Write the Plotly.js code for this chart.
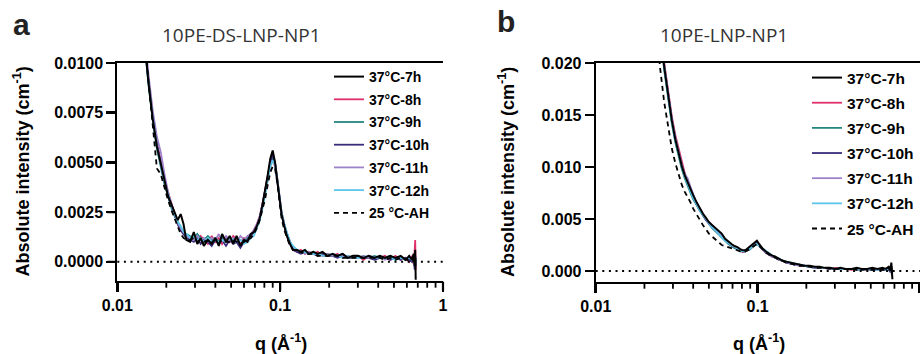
<!DOCTYPE html>
<html>
<head>
<meta charset="utf-8">
<script src="https://cdn.plot.ly/plotly-3.0.1.min.js"></script>
<style>html,body{margin:0;padding:0;background:#fff;overflow:hidden}#chart{width:920px;height:354px}</style>
</head>
<body>
<div id="chart"></div>
<script>
// ---------- Panel a : 10PE-DS-LNP-NP1 ----------
const qA = [0.0125,0.0135,0.0145,0.0155,0.0165,0.0175,0.0185,0.0195,0.0205,0.0215,
  0.0225,0.0235,0.0245,0.0255,0.0265,0.0280,0.0295,0.0310,0.0325,0.0340,
  0.0360,0.0380,0.0400,0.0420,0.0440,0.0465,0.0490,0.0515,0.0540,0.0570,
  0.0600,0.0630,0.0660,0.0690,0.0720,0.0750,0.0780,0.0810,0.0840,0.0870,
  0.0900,0.0930,0.0960,0.0990,0.1020,0.1060,0.1100,0.1150,0.1200,0.1270,
  0.1340,0.1420,0.1500,0.1600,0.1700,0.1820,0.1950,0.2100,0.2250,0.2420,
  0.2600,0.2800,0.3000,0.3250,0.3500,0.3800,0.4100,0.4400,0.4750,0.5100,
  0.5500,0.5900,0.6200,0.6450,0.6600,0.6700,0.6750,0.6800];
const a7h = [0.0190,0.0150,0.0115,0.0091,0.0072,0.0058,0.0050,0.0041,0.0033,0.0029,
  0.0025,0.0021,0.0024,0.0019,0.0011,0.0010,0.0015,0.0009,0.0012,0.0008,
  0.0011,0.0009,0.0012,0.0008,0.0014,0.0010,0.0013,0.0009,0.0013,0.0008,
  0.0011,0.0010,0.0014,0.0015,0.0018,0.0022,0.0029,0.0036,0.0044,0.0052,
  0.0056,0.0050,0.0041,0.0031,0.0024,0.0018,0.0013,0.0009,0.0006,0.0006,
  0.0005,0.0006,0.0004,0.0005,0.0004,0.0005,0.0003,0.0004,0.0003,0.0004,
  0.0002,0.0003,0.0003,0.0002,0.0003,0.0002,0.0003,0.0002,0.0003,0.0002,
  0.0003,0.0001,0.0003,0.0001,0.0004,-0.0002,0.0006,-0.0009];
const a8h = [0.0195,0.0154,0.0118,0.0093,0.0074,0.0060,0.0050,0.0042,0.0035,0.0029,
  0.0024,0.0019,0.0016,0.0014,0.0013,0.0011,0.0012,0.0010,0.0013,0.0011,
  0.0009,0.0013,0.0010,0.0012,0.0009,0.0012,0.0010,0.0013,0.0011,0.0009,
  0.0012,0.0011,0.0013,0.0016,0.0019,0.0023,0.0029,0.0036,0.0043,0.0050,
  0.0053,0.0050,0.0042,0.0032,0.0025,0.0019,0.0014,0.0010,0.0007,0.0005,
  0.0006,0.0004,0.0005,0.0004,0.0005,0.0003,0.0004,0.0003,0.0004,0.0002,
  0.0003,0.0002,0.0003,0.0001,0.0003,0.0002,0.0002,0.0003,0.0001,0.0003,
  0.0001,0.0002,0.0000,0.0003,-0.0001,0.0006,0.0011,-0.0004];
const a9h = [0.0192,0.0151,0.0116,0.0090,0.0071,0.0057,0.0047,0.0039,0.0033,0.0027,
  0.0023,0.0020,0.0017,0.0015,0.0014,0.0013,0.0012,0.0014,0.0012,0.0011,
  0.0013,0.0011,0.0012,0.0010,0.0012,0.0011,0.0012,0.0010,0.0012,0.0011,
  0.0010,0.0012,0.0014,0.0015,0.0018,0.0022,0.0028,0.0035,0.0042,0.0049,
  0.0052,0.0049,0.0041,0.0031,0.0024,0.0018,0.0014,0.0010,0.0007,0.0006,
  0.0005,0.0005,0.0004,0.0005,0.0003,0.0004,0.0004,0.0003,0.0003,0.0004,
  0.0002,0.0003,0.0002,0.0003,0.0002,0.0003,0.0002,0.0002,0.0003,0.0001,
  0.0002,0.0002,0.0001,0.0002,0.0000,0.0003,-0.0003,0.0002];
const a10h = [0.0196,0.0153,0.0117,0.0092,0.0073,0.0059,0.0049,0.0040,0.0033,0.0028,
  0.0023,0.0019,0.0016,0.0014,0.0012,0.0011,0.0010,0.0012,0.0009,0.0011,
  0.0010,0.0008,0.0011,0.0009,0.0011,0.0008,0.0011,0.0009,0.0010,0.0007,
  0.0010,0.0011,0.0013,0.0015,0.0018,0.0022,0.0029,0.0036,0.0044,0.0050,
  0.0054,0.0050,0.0041,0.0031,0.0024,0.0018,0.0013,0.0009,0.0006,0.0005,
  0.0004,0.0005,0.0004,0.0004,0.0003,0.0004,0.0003,0.0003,0.0002,0.0003,
  0.0002,0.0002,0.0003,0.0002,0.0002,0.0001,0.0002,0.0002,0.0001,0.0002,
  0.0001,0.0002,0.0001,0.0000,0.0002,-0.0004,0.0003,-0.0002];
const a11h = [0.0200,0.0158,0.0121,0.0095,0.0076,0.0063,0.0055,0.0044,0.0035,0.0029,
  0.0024,0.0020,0.0017,0.0015,0.0013,0.0012,0.0011,0.0013,0.0011,0.0012,
  0.0010,0.0012,0.0011,0.0014,0.0010,0.0013,0.0011,0.0012,0.0010,0.0013,
  0.0011,0.0013,0.0014,0.0016,0.0019,0.0023,0.0029,0.0035,0.0042,0.0048,
  0.0051,0.0048,0.0040,0.0031,0.0025,0.0019,0.0014,0.0010,0.0007,0.0006,
  0.0005,0.0004,0.0005,0.0004,0.0004,0.0003,0.0004,0.0003,0.0003,0.0003,
  0.0003,0.0002,0.0002,0.0003,0.0002,0.0002,0.0003,0.0001,0.0002,0.0002,
  0.0002,0.0001,0.0002,0.0001,0.0001,0.0002,-0.0002,0.0001];
const a12h = [0.0193,0.0152,0.0116,0.0091,0.0072,0.0058,0.0048,0.0040,0.0034,0.0028,
  0.0024,0.0020,0.0018,0.0015,0.0014,0.0012,0.0013,0.0011,0.0012,0.0010,
  0.0012,0.0010,0.0011,0.0010,0.0011,0.0010,0.0012,0.0011,0.0010,0.0011,
  0.0009,0.0010,0.0012,0.0013,0.0017,0.0021,0.0027,0.0034,0.0041,0.0048,
  0.0051,0.0049,0.0042,0.0033,0.0025,0.0019,0.0015,0.0010,0.0008,0.0006,
  0.0005,0.0005,0.0004,0.0004,0.0004,0.0003,0.0003,0.0004,0.0003,0.0002,
  0.0003,0.0002,0.0002,0.0002,0.0003,0.0002,0.0002,0.0002,0.0002,0.0001,
  0.0002,0.0001,0.0002,0.0001,0.0002,-0.0001,0.0001,0.0000];
const aAH = [0.0205,0.0160,0.0121,0.0092,0.0068,0.0047,0.0044,0.0037,0.0031,0.0026,
  0.0022,0.0018,0.0014,0.0012,0.0011,0.0011,0.0012,0.0010,0.0011,0.0010,
  0.0011,0.0010,0.0011,0.0009,0.0011,0.0010,0.0010,0.0011,0.0010,0.0009,
  0.0010,0.0011,0.0012,0.0014,0.0017,0.0021,0.0026,0.0032,0.0039,0.0045,
  0.0048,0.0047,0.0040,0.0031,0.0022,0.0016,0.0012,0.0008,0.0006,0.0005,
  0.0005,0.0004,0.0004,0.0004,0.0003,0.0003,0.0003,0.0003,0.0003,0.0002,
  0.0002,0.0002,0.0002,0.0002,0.0002,0.0002,0.0002,0.0001,0.0002,0.0001,
  0.0002,0.0001,0.0001,0.0002,0.0000,0.0002,-0.0001,0.0001];

// ---------- Panel b : 10PE-LNP-NP1 ----------
const qB = [0.0220,0.0235,0.0250,0.0265,0.0280,0.0295,0.0310,0.0325,0.0340,0.0355,
  0.0370,0.0385,0.0400,0.0420,0.0440,0.0460,0.0480,0.0500,0.0525,0.0550,
  0.0575,0.0600,0.0630,0.0660,0.0690,0.0720,0.0750,0.0780,0.0810,0.0840,
  0.0870,0.0900,0.0930,0.0960,0.0990,0.1010,0.1040,0.1080,0.1120,0.1170,
  0.1220,0.1280,0.1350,0.1420,0.1500,0.1600,0.1700,0.1820,0.1950,0.2100,
  0.2250,0.2420,0.2600,0.2800,0.3000,0.3250,0.3500,0.3800,0.4100,0.4400,
  0.4750,0.5100,0.5500,0.5900,0.6200,0.6450,0.6600,0.6700,0.6750,0.6800];
const b7h = [0.0320,0.0272,0.0232,0.0196,0.0168,0.0145,0.0127,0.0113,0.0101,0.0092,
  0.0085,0.0080,0.0073,0.0066,0.0060,0.0055,0.0051,0.0047,0.0044,0.0041,
  0.0039,0.0036,0.0031,0.0028,0.0026,0.0024,0.0023,0.0021,0.0020,0.0020,
  0.0022,0.0023,0.0025,0.0027,0.0029,0.0027,0.0024,0.0021,0.0019,0.0017,
  0.0015,0.0014,0.0012,0.0010,0.0009,0.0008,0.0007,0.0006,0.0005,0.0005,
  0.0004,0.0004,0.0003,0.0003,0.0002,0.0003,0.0002,0.0002,0.0003,0.0002,
  0.0002,0.0003,0.0002,0.0003,0.0002,0.0004,0.0001,0.0008,-0.0002,-0.0008];
const b8h = [0.0325,0.0276,0.0236,0.0200,0.0172,0.0149,0.0131,0.0117,0.0104,0.0094,
  0.0086,0.0079,0.0072,0.0065,0.0059,0.0054,0.0050,0.0046,0.0043,0.0040,
  0.0037,0.0034,0.0030,0.0027,0.0025,0.0023,0.0021,0.0020,0.0018,0.0019,
  0.0020,0.0022,0.0024,0.0026,0.0027,0.0026,0.0023,0.0020,0.0018,0.0016,
  0.0014,0.0013,0.0011,0.0010,0.0009,0.0007,0.0007,0.0005,0.0005,0.0004,
  0.0004,0.0003,0.0003,0.0002,0.0003,0.0002,0.0002,0.0001,0.0002,0.0002,
  0.0001,0.0002,0.0001,0.0002,0.0001,0.0002,0.0000,0.0005,-0.0004,0.0001];
const b9h = [0.0318,0.0270,0.0229,0.0193,0.0165,0.0142,0.0124,0.0110,0.0098,0.0089,
  0.0081,0.0075,0.0069,0.0063,0.0058,0.0053,0.0049,0.0045,0.0041,0.0038,
  0.0035,0.0032,0.0029,0.0026,0.0024,0.0022,0.0021,0.0019,0.0019,0.0019,
  0.0020,0.0021,0.0023,0.0025,0.0026,0.0025,0.0023,0.0020,0.0018,0.0016,
  0.0015,0.0013,0.0012,0.0010,0.0009,0.0008,0.0006,0.0006,0.0005,0.0004,
  0.0004,0.0003,0.0003,0.0003,0.0002,0.0002,0.0002,0.0002,0.0001,0.0002,
  0.0002,0.0001,0.0002,0.0001,0.0002,0.0001,0.0003,-0.0002,0.0004,-0.0001];
const b10h = [0.0322,0.0274,0.0233,0.0197,0.0169,0.0146,0.0128,0.0114,0.0102,0.0093,
  0.0087,0.0079,0.0071,0.0064,0.0058,0.0054,0.0049,0.0046,0.0042,0.0039,
  0.0036,0.0033,0.0030,0.0027,0.0025,0.0023,0.0021,0.0020,0.0019,0.0019,
  0.0021,0.0022,0.0024,0.0026,0.0027,0.0026,0.0023,0.0021,0.0018,0.0016,
  0.0015,0.0013,0.0011,0.0010,0.0008,0.0007,0.0006,0.0006,0.0005,0.0004,
  0.0003,0.0003,0.0003,0.0002,0.0002,0.0002,0.0002,0.0002,0.0002,0.0001,
  0.0002,0.0001,0.0002,0.0001,0.0001,0.0002,-0.0001,0.0003,-0.0003,0.0000];
const b11h = [0.0324,0.0275,0.0235,0.0199,0.0170,0.0147,0.0129,0.0114,0.0102,0.0093,
  0.0089,0.0081,0.0073,0.0065,0.0059,0.0054,0.0050,0.0046,0.0042,0.0039,
  0.0036,0.0033,0.0030,0.0027,0.0025,0.0023,0.0021,0.0020,0.0019,0.0020,
  0.0021,0.0022,0.0024,0.0026,0.0027,0.0025,0.0023,0.0020,0.0018,0.0016,
  0.0014,0.0013,0.0011,0.0010,0.0009,0.0007,0.0006,0.0005,0.0005,0.0004,
  0.0004,0.0003,0.0003,0.0002,0.0002,0.0002,0.0002,0.0002,0.0001,0.0002,
  0.0001,0.0002,0.0001,0.0001,0.0002,0.0001,0.0002,-0.0001,0.0002,0.0000];
const b12h = [0.0319,0.0271,0.0231,0.0195,0.0167,0.0144,0.0126,0.0112,0.0100,0.0091,
  0.0083,0.0077,0.0070,0.0064,0.0058,0.0054,0.0050,0.0046,0.0042,0.0039,
  0.0036,0.0033,0.0029,0.0027,0.0025,0.0023,0.0021,0.0020,0.0019,0.0019,
  0.0020,0.0022,0.0023,0.0025,0.0026,0.0025,0.0023,0.0021,0.0019,0.0017,
  0.0015,0.0013,0.0012,0.0010,0.0009,0.0008,0.0007,0.0006,0.0005,0.0004,
  0.0004,0.0003,0.0003,0.0003,0.0002,0.0002,0.0002,0.0002,0.0002,0.0001,
  0.0002,0.0001,0.0001,0.0002,0.0001,0.0001,0.0002,0.0000,0.0001,0.0000];
const bAH = [0.0290,0.0238,0.0195,0.0162,0.0138,0.0118,0.0104,0.0092,0.0083,0.0076,
  0.0071,0.0066,0.0060,0.0054,0.0049,0.0044,0.0040,0.0036,0.0033,0.0030,
  0.0027,0.0025,0.0024,0.0023,0.0022,0.0021,0.0020,0.0019,0.0019,0.0019,
  0.0020,0.0021,0.0023,0.0025,0.0026,0.0025,0.0023,0.0020,0.0018,0.0016,
  0.0014,0.0013,0.0011,0.0010,0.0008,0.0007,0.0006,0.0005,0.0005,0.0004,
  0.0003,0.0003,0.0003,0.0002,0.0002,0.0002,0.0002,0.0002,0.0001,0.0001,
  0.0002,0.0001,0.0001,0.0001,0.0001,0.0001,0.0001,0.0000,0.0001,0.0000];

const seriesNames = ['37°C-7h','37°C-8h','37°C-9h','37°C-10h','37°C-11h','37°C-12h','25 °C-AH'];
const seriesColors = ['#000000','#E2306B','#23877F','#3A2B7C','#9C82C9','#5EC6EA','#000000'];
const panelTitles = ['10PE-DS-LNP-NP1','10PE-LNP-NP1'];
const panelLetters = ['a','b'];
const yTitle = 'Absolute intensity (cm<sup>-1</sup>)';
const xTitle = 'q (Å<sup>-1</sup>)';
const majorTicks = [0.01, 0.1, 1];
const majorTickText = ['0.01', '0.1', '1'];
const minorTicks = [0.02,0.03,0.04,0.05,0.06,0.07,0.08,0.09,0.2,0.3,0.4,0.5,0.6,0.7,0.8,0.9];
const yTicksA = [0, 0.0025, 0.005, 0.0075, 0.01];
const yTicksB = [0, 0.005, 0.01, 0.015, 0.02];

const dataA = [a7h,a8h,a9h,a10h,a11h,a12h,aAH];
const dataB = [b7h,b8h,b9h,b10h,b11h,b12h,bAH];
// draw order: coloured first, then dashed, black on top
const drawOrder = [1,2,3,4,5,6,0];

const traces = [];
[[qA,dataA,'x','y','legend'],[qB,dataB,'x2','y2','legend2']].forEach(function(p,pi){
  drawOrder.forEach(function(i){
    traces.push({
      type:'scatter', mode:'lines', x:p[0], y:p[1][i],
      xaxis:p[2], yaxis:p[3], legend:p[4],
      name:seriesNames[i], legendrank:i+1, legendgroup:'g'+pi+'_'+i,
      line:{color:seriesColors[i], width: i===0?2:1.8, dash: i===6?'5px,4px':'solid'},
      hoverinfo:'skip'
    });
  });
});

const W=920,H=354;
const px = v => v/W, py = v => 1 - v/H;
const tickFont = {family:'Arial, Liberation Sans, sans-serif', size:16, color:'#000', weight:700};
const rangeA = [-2, 0], rangeB = [-2, 0.003];
const domXA = [117.3, 443], domXB = [595.7, 920];
const domYA = [63, 280.7], domYB = [63, 281.7];
function xax(dom, rng){
  return {type:'log', domain:[px(dom[0]), px(dom[1])], range:rng, autorange:false, showline:true, linewidth:2, linecolor:'#000', mirror:true,
    ticks:'outside', ticklen:9, tickwidth:2.5, tickcolor:'#000', showgrid:false, zeroline:false,
    tickmode:'array', tickvals:majorTicks, ticktext:majorTickText, tickfont:tickFont};
}
function yax(dom, rng, dt, fmt, anchor){
  return {domain:[1-dom[1]/H, 1-dom[0]/H], range:rng, autorange:false, showline:true, linewidth:2, linecolor:'#000',
    ticks:'outside', ticklen:9, tickwidth:2.5, tickcolor:'#000', showgrid:false, zeroline:false,
    tickmode:'linear', tick0:0, dtick:dt, tickformat:fmt, tickfont:tickFont, anchor:anchor};
}
const legFont = {family:'Arial, Liberation Sans, sans-serif', size:14, color:'#000', weight:700};

// tick marks as unclipped, domain-referenced shapes placed from the tick arrays and the axis ranges
const shapes = [
  {type:'line', xref:'x domain', yref:'y', x0:0, x1:1, y0:0, y1:0, line:{color:'#000', width:2, dash:'2px,4.6px'}},
  {type:'line', xref:'x2 domain', yref:'y2', x0:0, x1:1, y0:0, y1:0, line:{color:'#000', width:2, dash:'2px,4.6px'}}
];
[['x domain','y domain',rangeA,domXA,domYA],['x2 domain','y2 domain',rangeB,domXB,domYB]].forEach(function(s){
  const hgt = s[4][1]-s[4][0];
  const frac = v => (Math.log10(v)-s[2][0])/(s[2][1]-s[2][0]);
  majorTicks.concat(minorTicks).forEach(function(v, k){
    const f = frac(v);
    if (f < -0.001 || f > 1.001) return;
    const len = k < majorTicks.length ? 10 : 7;
    shapes.push({type:'line', xref:s[0], yref:s[1], x0:f, x1:f, y0:-1/hgt, y1:-len/hgt,
      line:{color:'#000', width: k < majorTicks.length ? 2.2 : 1.8}});
  });
});
[['x domain','y',yTicksA,domXA],['x2 domain','y2',yTicksB,domXB]].forEach(function(s){
  const wid = s[3][1]-s[3][0];
  s[2].forEach(function(v){
    shapes.push({type:'line', xref:s[0], yref:s[1], x0:-10/wid, x1:-1/wid, y0:v, y1:v, line:{color:'#000', width:2.2}});
  });
});

const layout = {
  width:W, height:H, margin:{l:0,r:0,t:0,b:0}, paper_bgcolor:'#fff', plot_bgcolor:'#fff',
  showlegend:true,
  xaxis: xax(domXA, rangeA),
  yaxis: yax(domYA, [-0.00095, 0.0100], 0.0025, '.4f', 'x'),
  xaxis2: Object.assign(xax(domXB, rangeB), {anchor:'y2'}),
  yaxis2: yax(domYB, [-0.00103, 0.0200], 0.005, '.3f', 'x2'),
  legend:{x:px(329), y:py(61), xanchor:'left', yanchor:'top', bgcolor:'rgba(0,0,0,0)',
    font:legFont, tracegroupgap:1.5, traceorder:'grouped'},
  legend2:{x:px(807), y:py(61), xanchor:'left', yanchor:'top', bgcolor:'rgba(0,0,0,0)',
    font:Object.assign({},legFont,{size:15.5}), tracegroupgap:2, traceorder:'grouped'},
  shapes:shapes,
  annotations:[
    {text:panelLetters[0], x:px(21), y:py(24), xref:'paper', yref:'paper', showarrow:false, xanchor:'center', yanchor:'middle',
      font:{family:'Arial, Liberation Sans, sans-serif', size:30, weight:700, color:'#222'}},
    {text:panelLetters[1], x:px(506), y:py(22), xref:'paper', yref:'paper', showarrow:false, xanchor:'center', yanchor:'middle',
      font:{family:'Arial, Liberation Sans, sans-serif', size:30, weight:700, color:'#222'}},
    {text:panelTitles[0], x:px(241), y:py(35), xref:'paper', yref:'paper', showarrow:false, xanchor:'center', yanchor:'middle',
      font:{family:'Open Sans, sans-serif', size:19, color:'#333'}},
    {text:panelTitles[1], x:px(724), y:py(35), xref:'paper', yref:'paper', showarrow:false, xanchor:'center', yanchor:'middle',
      font:{family:'Open Sans, sans-serif', size:19, color:'#333'}},
    {text:yTitle, x:px(21.5), y:py(172), xref:'paper', yref:'paper', showarrow:false, xanchor:'center', yanchor:'middle', textangle:-90,
      font:{family:'Arial, Liberation Sans, sans-serif', size:18, weight:700, color:'#000'}},
    {text:yTitle, x:px(506), y:py(172), xref:'paper', yref:'paper', showarrow:false, xanchor:'center', yanchor:'middle', textangle:-90,
      font:{family:'Arial, Liberation Sans, sans-serif', size:18, weight:700, color:'#000'}},
    {text:xTitle, x:px(281), y:py(342), xref:'paper', yref:'paper', showarrow:false, xanchor:'center', yanchor:'middle',
      font:{family:'Arial, Liberation Sans, sans-serif', size:18, weight:700, color:'#000'}},
    {text:xTitle, x:px(759), y:py(342), xref:'paper', yref:'paper', showarrow:false, xanchor:'center', yanchor:'middle',
      font:{family:'Arial, Liberation Sans, sans-serif', size:18, weight:700, color:'#000'}}
  ]
};
Plotly.newPlot('chart', traces, layout, {displayModeBar:false, staticPlot:true});
</script>
</body>
</html>
